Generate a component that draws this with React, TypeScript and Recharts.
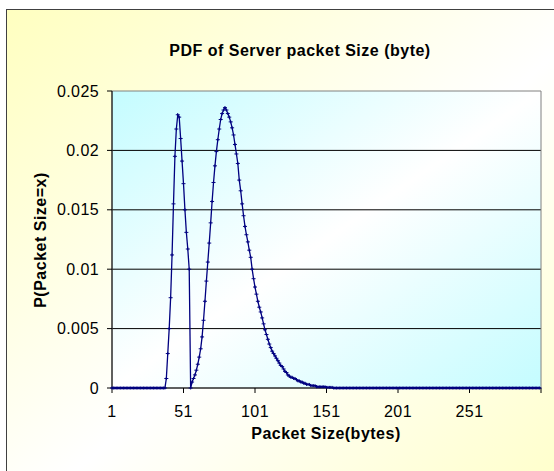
import { LineChart, Line, XAxis, YAxis, CartesianGrid, ReferenceArea } from "recharts"

// packet sizes on the category axis
const packetSizes = Array.from({ length: 300 }, (_, i) => i + 1)

// the curve is flat at zero outside sizes 38..160
const riseStart = 38
const pdfCurve = [
  0, 0.0008, 0.0029, 0.005, 0.0076, 0.0112, 0.0155, 0.0195, 0.0218, 0.023,
  0.0228, 0.021, 0.0191, 0.0172, 0.015, 0.0131, 0.0117, 0.01, 0, 0.0005,
  0.0008, 0.0011, 0.0015, 0.002, 0.0026, 0.0033, 0.0043, 0.0057, 0.0073, 0.009,
  0.0106, 0.0122, 0.0139, 0.0157, 0.0173, 0.0187, 0.0199, 0.0209, 0.0218, 0.0226,
  0.0231, 0.0234, 0.0236, 0.0234, 0.0231, 0.0228, 0.0224, 0.0219, 0.0213, 0.0205,
  0.0197, 0.0189, 0.0175, 0.0166, 0.0155, 0.0145, 0.0136, 0.0129, 0.0123, 0.0116,
  0.011, 0.01, 0.0092, 0.0085, 0.0079, 0.0073, 0.0068, 0.0064, 0.0059, 0.0054,
  0.0049, 0.0045, 0.0041, 0.0037, 0.0034, 0.0031, 0.0029, 0.0027, 0.0025, 0.0023,
  0.0021, 0.0019, 0.0018, 0.0016, 0.0014, 0.0013, 0.0011, 0.001, 0.0009, 0.0009,
  0.0008, 0.0008, 0.0007, 0.0006, 0.0006, 0.0005, 0.0005, 0.0004, 0.0004, 0.0003,
  0.0003, 0.0003, 0.0002, 0.0002, 0.0002, 0.0002, 0.0001, 0.0001, 0.0001, 0.0001,
  0.0001, 0.0001, 0.0001, 0.00005, 0.00005, 0.00005, 0.00005, 0.00005, 0, 0,
]

const xTicks = [1, 51, 101, 151, 201, 251, 301]
const yTicks = [0, 0.005, 0.01, 0.015, 0.02, 0.025]

const data = packetSizes.map((size) => {
  const i = size - riseStart
  return { size, p: i >= 0 && i < pdfCurve.length ? pdfCurve[i] : 0 }
})

const font = "'Liberation Sans', Arial, sans-serif"
const navy = "#000080"

function PlusMarker(props: any) {
  const { cx, cy, index } = props
  if (cx == null || cy == null) return <g key={index} />
  return (
    <path
      key={index}
      d={`M${cx - 2},${cy}h4M${cx},${cy - 1.5}v3`}
      stroke={navy}
      strokeWidth={1}
      fill="none"
    />
  )
}

const titleStyle = {
  position: "absolute" as const,
  textAlign: "center" as const,
  fontWeight: "bold",
  fontSize: 16,
  letterSpacing: 0.5,
  lineHeight: "20px",
  color: "#000",
}

export default function App() {
  return (
    <div style={{ position: "fixed", left: 0, top: 0, width: 554, height: 471, overflow: "hidden", background: "#fff", fontFamily: font }}>
      {/* chart area */}
      <div
        style={{
          position: "absolute",
          left: 6,
          top: 9,
          width: 600,
          height: 520,
          border: "1px solid #404040",
          background: "linear-gradient(to bottom right, #ffffc0, #ffffff 50%, #ffffc0)",
        }}
      />

      <div style={{ position: "absolute", left: 0, top: 0 }}>
        <LineChart width={554} height={471} data={data} margin={{ top: 91, right: 13, bottom: 43, left: 52 }}>
          <defs>
            <linearGradient id="plotBg" x1="0" y1="0" x2="1" y2="1">
              <stop offset="0%" stopColor="#c4fcff" />
              <stop offset="50%" stopColor="#ffffff" />
              <stop offset="100%" stopColor="#c4fcff" />
            </linearGradient>
          </defs>
          <CartesianGrid
            vertical={false}
            fill="url(#plotBg)"
            stroke="#000"
            horizontalValues={[0.005, 0.01, 0.015, 0.02]}
          />
          <ReferenceArea x1={1} x2={301} y1={0} y2={0.025} fill="none" stroke="#808080" strokeWidth={1} />
          <XAxis
            dataKey="size"
            type="number"
            domain={[1, 301]}
            ticks={xTicks}
            tickFormatter={(v: number) => (v === 301 ? "" : String(v))}
            height={40}
            tickSize={5}
            tickMargin={13}
            stroke="#000"
            tick={{ fill: "#000", fontSize: 16, fontFamily: font, letterSpacing: 0.4 }}
            interval={0}
          />
          <YAxis
            type="number"
            domain={[0, 0.025]}
            ticks={yTicks}
            tickFormatter={(v: number) => String(+v.toFixed(3))}
            width={60}
            tickSize={5}
            tickMargin={8}
            stroke="#000"
            tick={{ fill: "#000", fontSize: 16, fontFamily: font, letterSpacing: 0.4 }}
            interval={0}
          />
          <Line
            type="linear"
            dataKey="p"
            stroke={navy}
            strokeWidth={1.3}
            dot={PlusMarker}
            activeDot={false}
            isAnimationActive={false}
          />
        </LineChart>
      </div>

      <div style={{ ...titleStyle, left: 100, width: 400, top: 41 }}>
        PDF of Server packet Size (byte)
      </div>
      <div style={{ ...titleStyle, left: 176, width: 300, top: 424 }}>
        Packet Size(bytes)
      </div>
      <div style={{ ...titleStyle, left: 41 - 100, top: 240 - 10, width: 200, transform: "rotate(-90deg)" }}>
        P(Packet Size=x)
      </div>
    </div>
  )
}
